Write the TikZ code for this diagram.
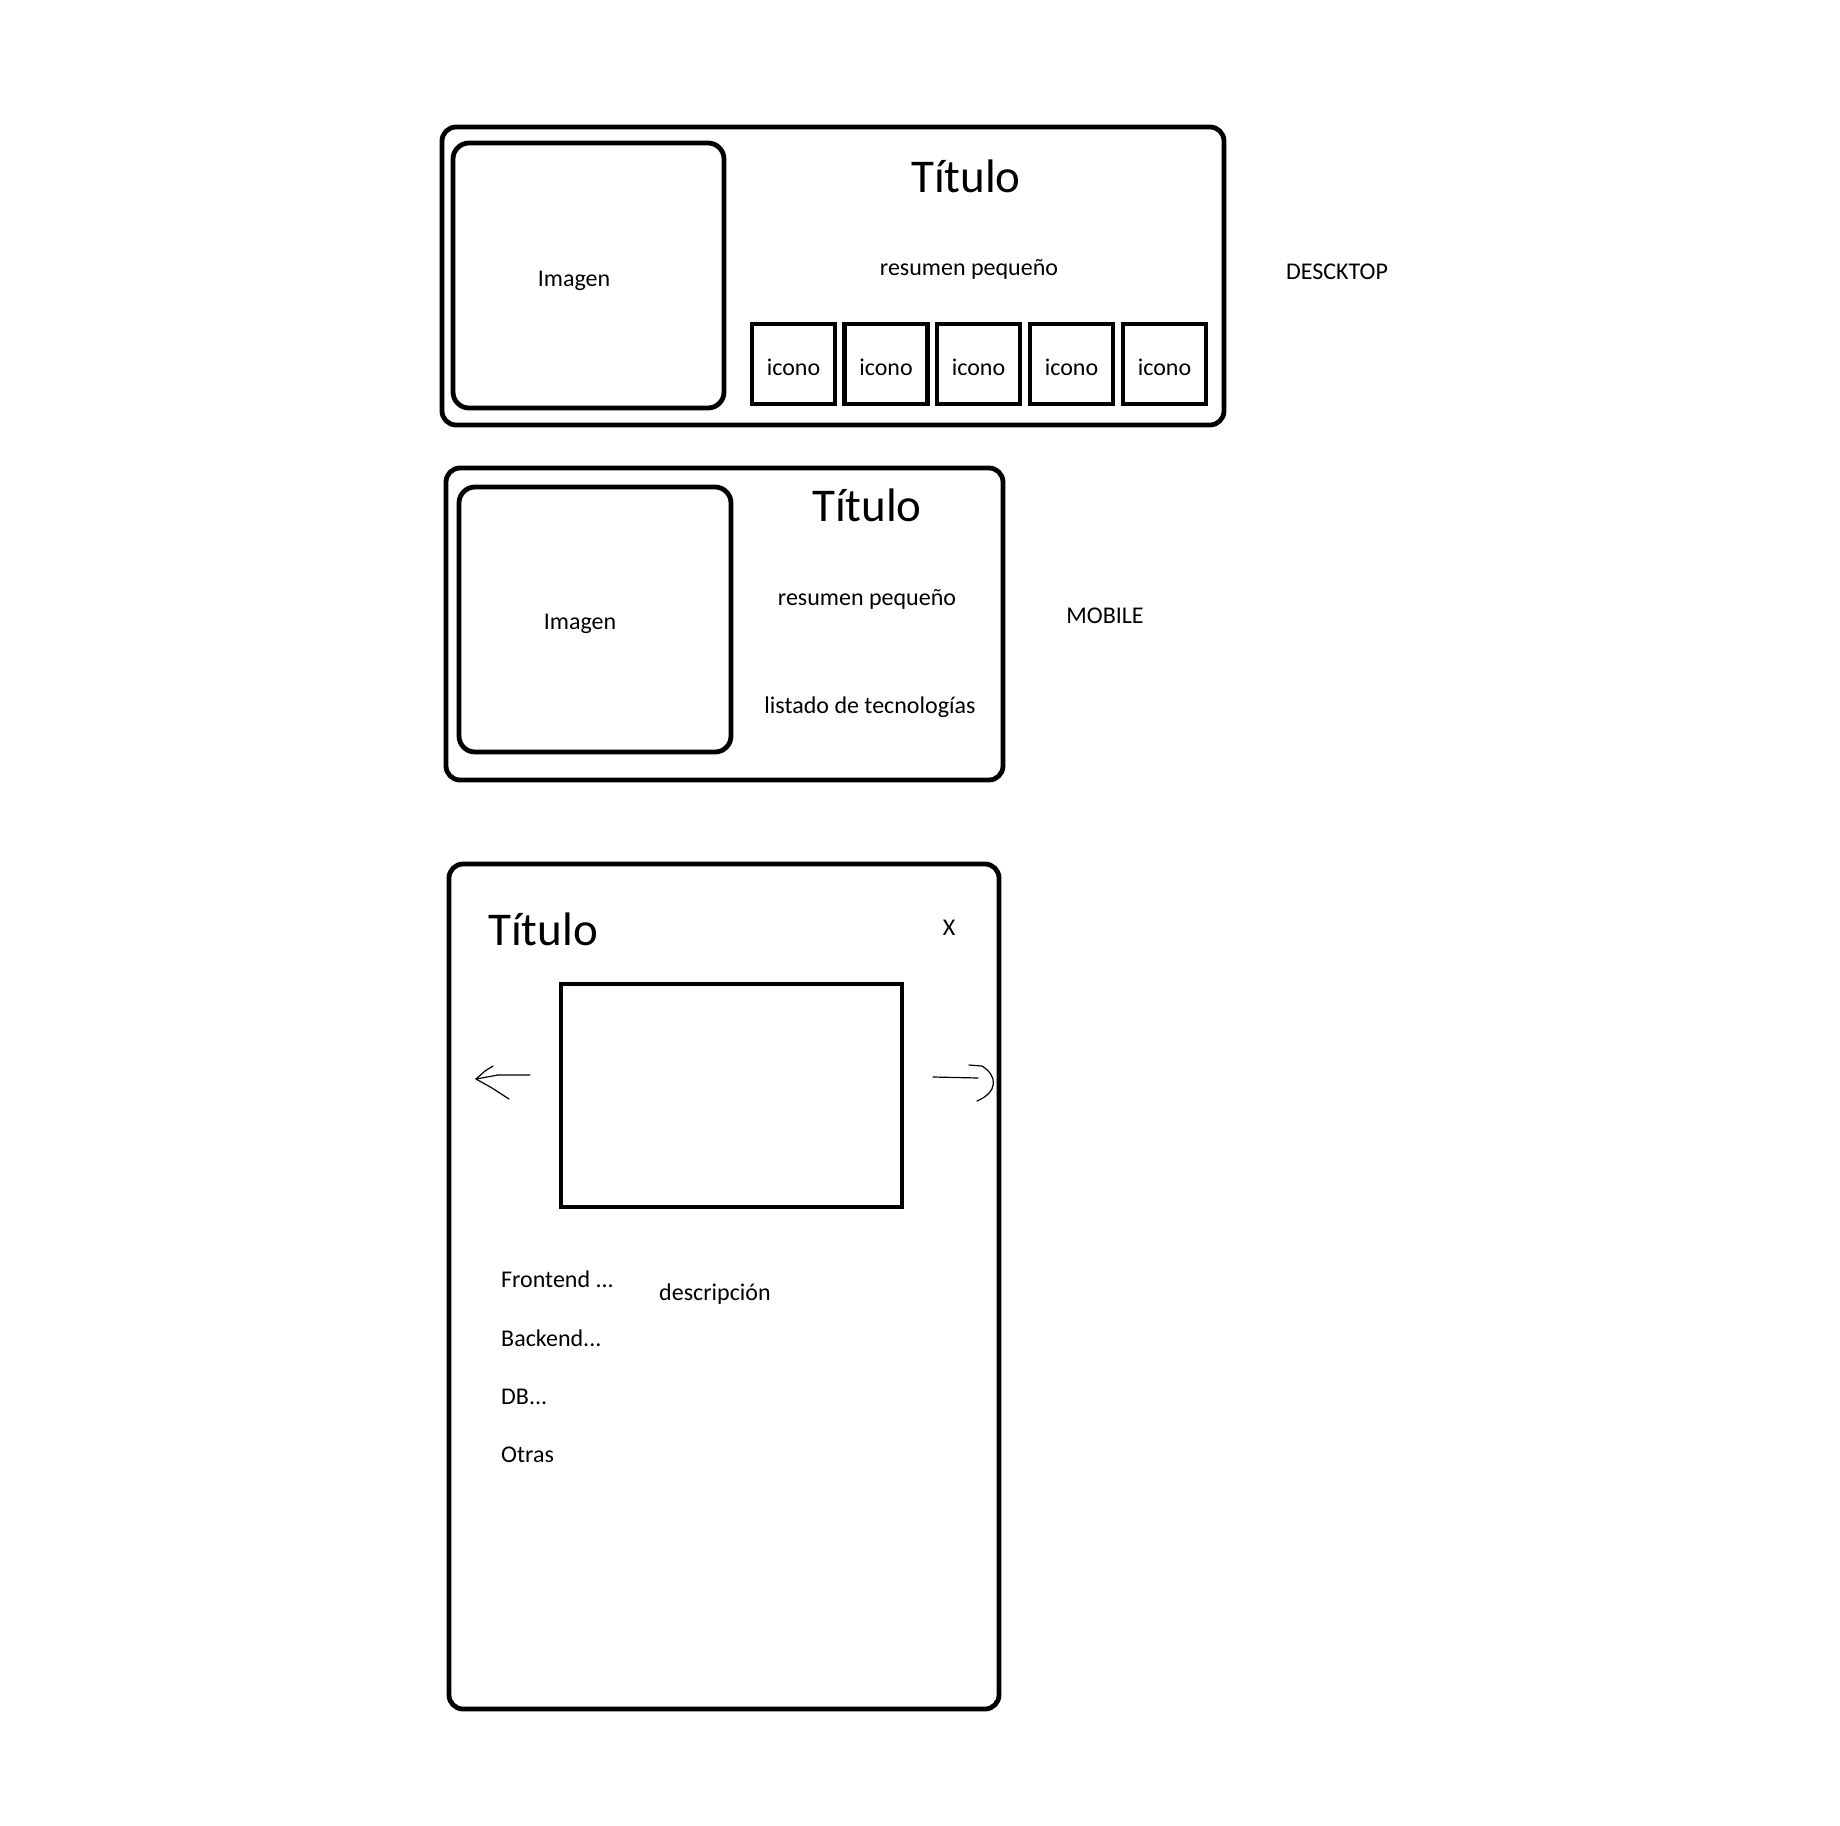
\documentclass[tikz,border=0pt]{standalone}
\usepackage{fontspec}
\setmainfont{Carlito}
\begin{document}
\begin{tikzpicture}[x=1pt,y=-1pt,
  card/.style={draw=black,line width=4.8pt,rounded corners=14pt},
  pic/.style={draw=black,line width=4.8pt,rounded corners=16pt},
  sqbox/.style={draw=black,line width=4.3pt},
  lbl/.style={font=\fontsize{24}{28}\selectfont,inner sep=0pt,text height=0.62em,text depth=0pt,yshift=-6pt},
  big/.style={font=\fontsize{47}{54}\selectfont,inner sep=0pt,text height=0.62em,text depth=0pt,yshift=-11pt},
  pen/.style={line width=1.2pt,line cap=round,line join=round}]
\useasboundingbox (0,0) rectangle (1840,1826);
\fill[white] (0,0) rectangle (1840,1826);

% ---- desktop card ----
\draw[card] (442,127) rectangle (1224,425);
\draw[pic] (453,143) rectangle (724,408);
\node[lbl] (dimg) at (574,277) {Imagen};
\node[big] (dtit) at (966,178) {Título};
\node[lbl] (dres) at (969,266) {resumen pequeño};
\foreach \i/\x in {1/752,2/844.5,3/937,4/1030,5/1123}{
  \draw[sqbox] (\x,324) rectangle ++(83,80);
  \node[lbl] (ic\i) at (\x+41.5,366) {icono};
}
\node[lbl] (dlab) at (1337,270) {DESCKTOP};

% ---- mobile card ----
\draw[card] (446,468) rectangle (1003,780);
\draw[pic] (459,487) rectangle (731,752);
\node[lbl] (mimg) at (580,620) {Imagen};
\node[big] (mtit) at (867,507) {Título};
\node[lbl] (mres) at (867,596) {resumen pequeño};
\node[lbl] (mlist) at (870,704) {listado de tecnologías};
\node[lbl] (mlab) at (1105,614) {MOBILE};

% ---- detail modal ----
\draw[card] (449,864) rectangle (999,1709);
\node[big,anchor=west] (otit) at (488,931) {Título};
\node[lbl] (close) at (949,926) {X};
\draw[sqbox] (561,984) rectangle (902,1207);
\node[lbl,anchor=west] (fe) at (501,1278) {Frontend ...};
\node[lbl,anchor=west] (be) at (501,1337) {Backend...};
\node[lbl,anchor=west] (db) at (501,1395) {DB...};
\node[lbl,anchor=west] (ot) at (501,1453) {Otras};
\node[lbl,anchor=west] (desc) at (659,1291) {descripción};

% hand-drawn navigation arrows
\coordinate (ltip) at (476,1079);
\draw[pen] (530,1075) -- (498,1075) -- (ltip);
\draw[pen] (ltip) -- (485,1071) -- (493,1066);
\draw[pen] (ltip) -- (492,1088) -- (509,1099);
\coordinate (rtail) at (933,1077);
\draw[pen] (rtail) -- (978,1078);
\draw[pen] (969,1065) -- (982,1066) .. controls (998,1076) and (998,1092) .. (977,1101);
\end{tikzpicture}
\end{document}
